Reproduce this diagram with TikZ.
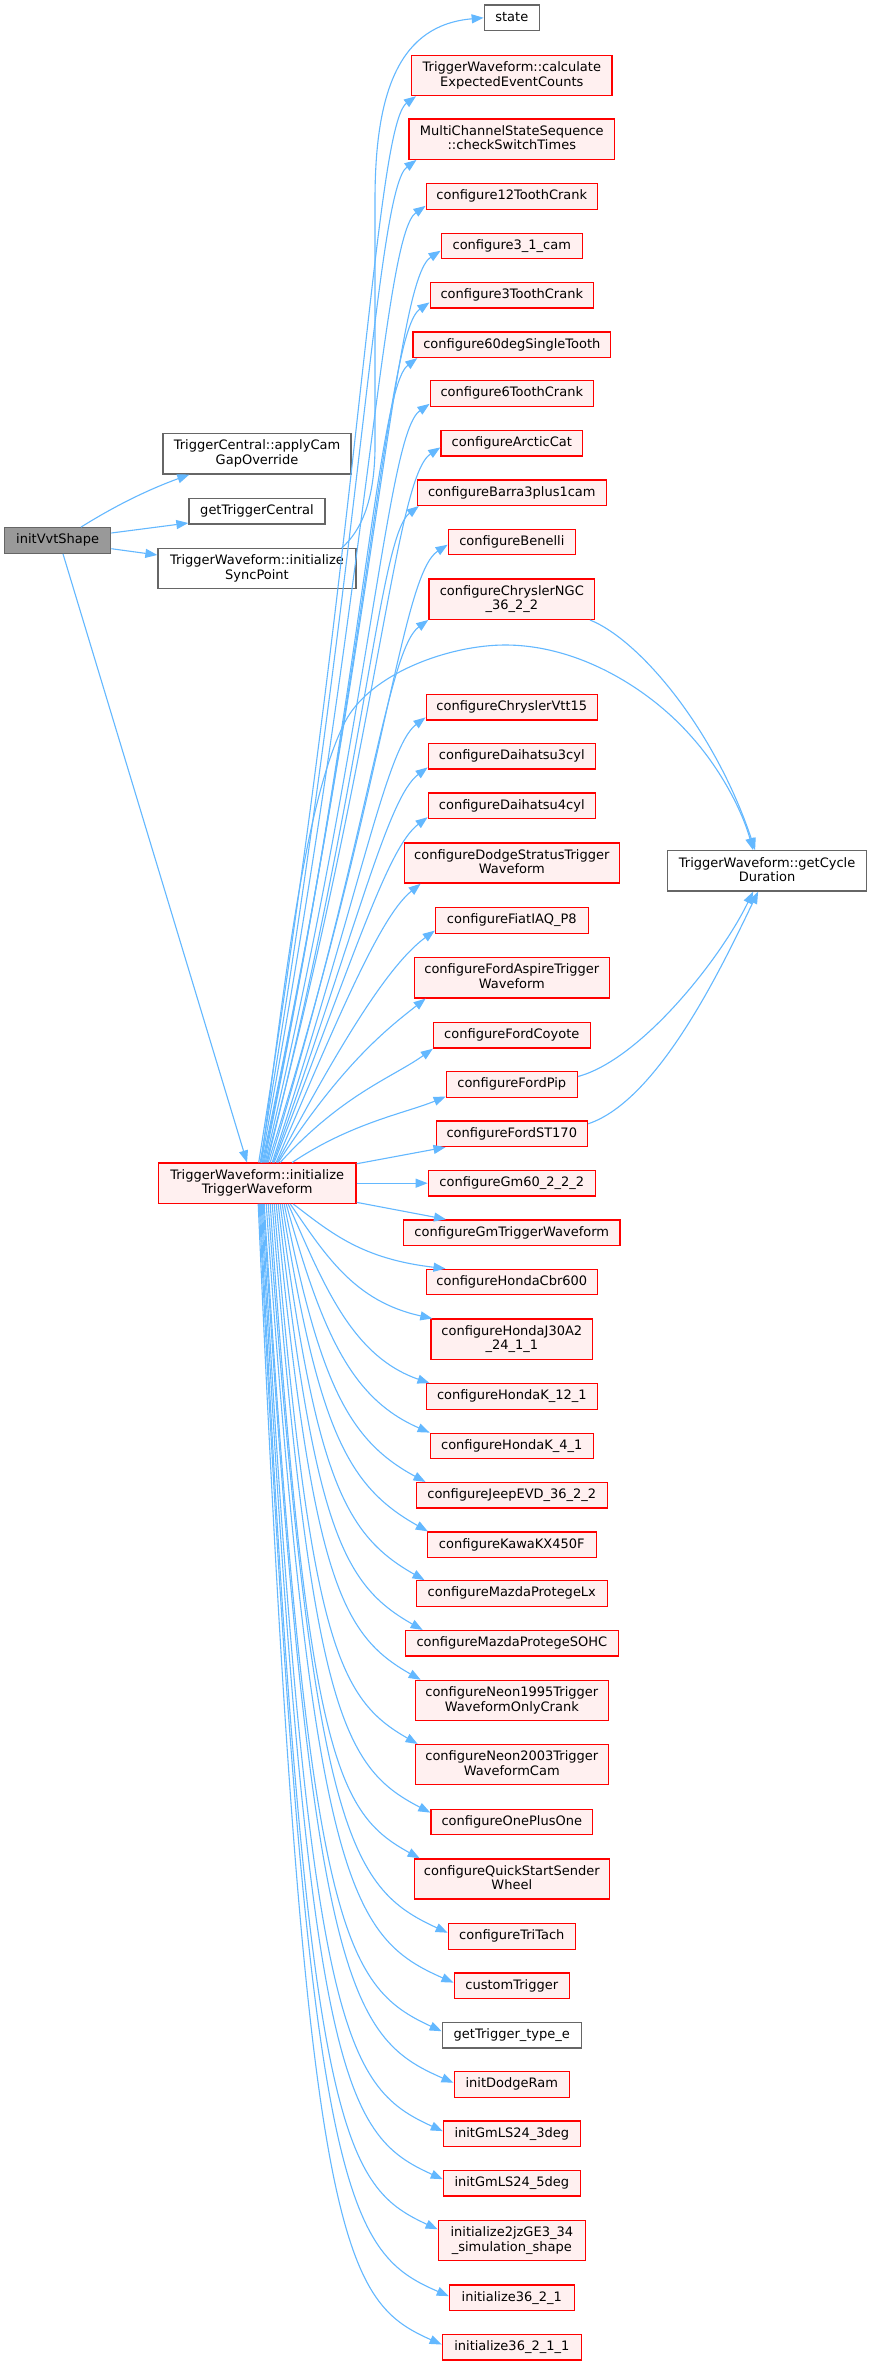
\documentclass[tikz,border=0pt]{standalone}
\usepackage{fontspec}
\setmainfont{DejaVu Sans}
\usetikzlibrary{arrows.meta,calc}
\definecolor{edgeblue}{HTML}{63B8FF}
\definecolor{redfill}{HTML}{FFF0F0}
\definecolor{grayline}{HTML}{666666}
\definecolor{rootfill}{HTML}{999999}
\newcommand\sst{\rule[-3pt]{0pt}{12.6pt}}
% upper edge: target, start xshift from tw.north, end xshift, end yshift from target.south west
\newcommand\upE[4]{%
\draw[edge] let \p1=([xshift=#2pt]tw.north), \p2=([xshift=#3pt,yshift=#4pt]#1.south west),
 \n1={\x2-\x1}, \n2={\y2-\y1}, \n3={0.35+0.3*min(\n2/600,1)}, \n4={min(30,0.25*\n2)} in
 (\p1) .. controls ({\x1+\n3*\n1},{\y2-0.4*\n2}) and ({\x2-0.26*\n1},{\y2-\n4}) .. (\p2);}
% lower edge: target, start xshift from tw.south, end xshift, end yshift from target.north west
\newcommand\loE[4]{%
\draw[edge] let \p1=([xshift=#2pt]tw.south), \p2=([xshift=#3pt,yshift=#4pt]#1.north west),
 \n1={\x2-\x1}, \n2={\y1-\y2}, \n3={min(0.55*\n2,100)}, \n4={min(0.15*\n2,45)} in
 (\p1) .. controls ({\x1+0.25*\n1},{\y2+\n3}) and ({\x2-0.55*\n1},{\y2+\n4}) .. (\p2);}
\begin{document}
\begin{tikzpicture}[x=1pt,y=1pt,
 box/.style={rectangle, draw, line width=1.3pt, inner sep=0pt, align=center,
   font=\fontsize{13}{14.5}\selectfont, minimum height=25.5pt},
 two/.style={minimum height=40.2pt},
 rednode/.style={box, draw=red, fill=redfill},
 graynode/.style={box, draw=grayline, fill=white},
 rootnode/.style={box, draw=grayline, fill=rootfill},
 edge/.style={color=edgeblue, line width=1.1pt, -{Triangle[length=12pt,width=9pt]}}]
\useasboundingbox (0,0) rectangle (872,-2365);
\fill[white] (0,0) rectangle (872,-2365);
% left column
\node[rootnode, minimum width=106pt] (root) at (57.7,-540.5) {\sst initVvtShape};
\node[graynode, two, minimum width=188pt] (applycam) at (257,-453.8) {\sst TriggerCentral::applyCam\\\sst GapOverride};
\node[graynode, minimum width=136pt] (gtc) at (257,-511.3) {\sst getTriggerCentral};
\node[graynode, two, minimum width=198pt] (syncp) at (257,-568.7) {\sst TriggerWaveform::initialize\\\sst SyncPoint};
\node[rednode, two, minimum width=197.7pt] (tw) at (257.2,-1183.2) {\sst TriggerWaveform::initialize\\\sst TriggerWaveform};
\node[graynode, two, minimum width=199.2pt] (getc) at (767.1,-870.9) {\sst TriggerWaveform::getCycle\\\sst Duration};
% right column
\node[graynode, minimum width=55pt] (state) at (511.8,-17.8) {\sst state};
\node[rednode, two, minimum width=200.3pt] (calcEEC) at (511.8,-75.5) {\sst TriggerWaveform::calculate\\\sst ExpectedEventCounts};
\node[rednode, two, minimum width=205.4pt] (multi) at (511.8,-139.2) {\sst MultiChannelStateSequence\\\sst ::checkSwitchTimes};
\node[rednode, minimum width=171.3pt] (c12) at (511.8,-196.5) {\sst configure12ToothCrank};
\node[rednode, minimum width=141pt] (c31) at (511.8,-246) {\sst configure3\_1\_cam};
\node[rednode, minimum width=163.3pt] (c3T) at (511.8,-295.3) {\sst configure3ToothCrank};
\node[rednode, minimum width=197.7pt] (c60) at (511.8,-344.7) {\sst configure60degSingleTooth};
\node[rednode, minimum width=163.3pt] (c6T) at (511.8,-393.5) {\sst configure6ToothCrank};
\node[rednode, minimum width=141.7pt] (arctic) at (511.8,-443.3) {\sst configureArcticCat};
\node[rednode, minimum width=188.7pt] (barra) at (511.8,-492.7) {\sst configureBarra3plus1cam};
\node[rednode, minimum width=127pt] (benelli) at (511.8,-542) {\sst configureBenelli};
\node[rednode, two, minimum width=165.7pt] (ngc) at (511.8,-599.2) {\sst configureChryslerNGC\\\sst \_36\_2\_2};
\node[rednode, minimum width=171.3pt] (vtt) at (511.8,-707.3) {\sst configureChryslerVtt15};
\node[rednode, minimum width=167pt] (dai3) at (511.8,-756.3) {\sst configureDaihatsu3cyl};
\node[rednode, minimum width=167pt] (dai4) at (511.8,-805.8) {\sst configureDaihatsu4cyl};
\node[rednode, two, minimum width=215pt] (dodge) at (511.8,-863) {\sst configureDodgeStratusTrigger\\\sst Waveform};
\node[rednode, minimum width=152.7pt] (fiat) at (511.8,-920.5) {\sst configureFiatIAQ\_P8};
\node[rednode, two, minimum width=195pt] (aspire) at (511.8,-977.8) {\sst configureFordAspireTrigger\\\sst Waveform};
\node[rednode, minimum width=156.7pt] (coyote) at (511.8,-1035.3) {\sst configureFordCoyote};
\node[rednode, minimum width=131pt] (pip) at (511.8,-1084.5) {\sst configureFordPip};
\node[rednode, minimum width=151.3pt] (st170) at (511.8,-1133.8) {\sst configureFordST170};
\node[rednode, minimum width=167pt] (gm60) at (511.8,-1183.2) {\sst configureGm60\_2\_2\_2};
\node[rednode, minimum width=216.3pt] (gmtw) at (511.8,-1232.7) {\sst configureGmTriggerWaveform};
\node[rednode, minimum width=171.3pt] (cbr) at (511.8,-1282) {\sst configureHondaCbr600};
\node[rednode, two, minimum width=161.7pt] (j30) at (511.8,-1339.2) {\sst configureHondaJ30A2\\\sst \_24\_1\_1};
\node[rednode, minimum width=171.3pt] (k121) at (511.8,-1396.5) {\sst configureHondaK\_12\_1};
\node[rednode, minimum width=163pt] (k41) at (511.8,-1446) {\sst configureHondaK\_4\_1};
\node[rednode, minimum width=191.3pt] (jeep) at (511.8,-1495.3) {\sst configureJeepEVD\_36\_2\_2};
\node[rednode, minimum width=168.7pt] (kawa) at (511.8,-1544.7) {\sst configureKawaKX450F};
\node[rednode, minimum width=191.3pt] (mlx) at (511.8,-1593.5) {\sst configureMazdaProtegeLx};
\node[rednode, minimum width=213pt] (msohc) at (511.8,-1643.3) {\sst configureMazdaProtegeSOHC};
\node[rednode, two, minimum width=193pt] (neon95) at (511.8,-1700.5) {\sst configureNeon1995Trigger\\\sst WaveformOnlyCrank};
\node[rednode, two, minimum width=193pt] (neon03) at (511.8,-1764.7) {\sst configureNeon2003Trigger\\\sst WaveformCam};
\node[rednode, minimum width=161.7pt] (opo) at (511.8,-1822) {\sst configureOnePlusOne};
\node[rednode, two, minimum width=195pt] (quick) at (511.8,-1879) {\sst configureQuickStartSender\\\sst Wheel};
\node[rednode, minimum width=127pt] (tritach) at (511.8,-1936.5) {\sst configureTriTach};
\node[rednode, minimum width=115.3pt] (custom) at (511.8,-1985.7) {\sst customTrigger};
\node[graynode, minimum width=139pt] (gtte) at (511.8,-2035.2) {\sst getTrigger\_type\_e};
\node[rednode, minimum width=115.3pt] (dodgeram) at (511.8,-2084.5) {\sst initDodgeRam};
\node[rednode, minimum width=136.7pt] (ls3) at (511.8,-2133.8) {\sst initGmLS24\_3deg};
\node[rednode, minimum width=136.7pt] (ls5) at (511.8,-2183.3) {\sst initGmLS24\_5deg};
\node[rednode, two, minimum width=147pt] (jz) at (511.8,-2240.7) {\sst initialize2jzGE3\_34\\\sst \_simulation\_shape};
\node[rednode, minimum width=124.7pt] (i3621) at (511.8,-2297.8) {\sst initialize36\_2\_1};
\node[rednode, minimum width=139pt] (i36211) at (511.8,-2347.2) {\sst initialize36\_2\_1\_1};
% edges from root
\draw[edge] ([xshift=23.3pt]root.north) .. controls (118,-504) and (150,-489) .. ([xshift=27pt]applycam.south west);
\draw[edge] ([yshift=7.5pt]root.east) -- ([yshift=-11.7pt]gtc.west);
\draw[edge] ([yshift=-8.2pt]root.east) -- ([yshift=13.7pt]syncp.west);
\draw[edge] ([xshift=5.3pt]root.south) -- ([xshift=-10.2pt]tw.north);
% syncpoint -> state
\draw[edge] ([xshift=84.7pt]syncp.north) .. controls (362,-530) and (374,-500) .. (375,-450)
  -- (375,-200) .. controls (375,-90) and (400,-25) .. (state.west);
% upper fan
\upE{calcEEC}{1.5}{5}{0}
\upE{multi}{3}{8}{0}
\upE{c12}{4}{0}{4}
\upE{c31}{5}{0}{8.7}
\upE{c3T}{6}{0}{6.3}
\upE{c60}{7}{5}{0}
\upE{c6T}{8}{0}{3}
\upE{arctic}{9}{0}{9.3}
\upE{barra}{10}{2}{0}
\upE{benelli}{11}{0}{10.7}
\upE{ngc}{13}{0}{0}
\upE{vtt}{15}{0}{3.3}
\upE{dai3}{16}{0}{2.3}
\upE{dai4}{17}{0}{2}
\upE{dodge}{19}{17}{0}
\upE{fiat}{20}{0}{3.3}
\upE{aspire}{21}{12}{0}
\upE{coyote}{23}{0}{0}
\upE{pip}{35}{0}{1.3}
\draw[edge] ([yshift=-1.3pt]tw.north east) -- ([xshift=10pt]st170.south west);
\draw[edge] (tw.east) -- (gm60.west);
\draw[edge] ([yshift=1.6pt]tw.south east) -- ([xshift=43pt]gmtw.north west);
% lower fan
\loE{cbr}{36}{20}{0}
\loE{j30}{33}{2}{0}
\loE{k121}{31}{4}{0}
\loE{k41}{29}{0}{0}
\loE{jeep}{27}{10}{0}
\loE{kawa}{25}{1}{0}
\loE{mlx}{23}{9}{0}
\loE{msohc}{21}{18}{0}
\loE{neon95}{19}{6}{0}
\loE{neon03}{17}{3}{0}
\loE{opo}{15}{0}{-4}
\loE{quick}{13}{6}{0}
\loE{tritach}{11}{0}{-9.6}
\loE{custom}{9}{0}{-10.3}
\loE{gtte}{7}{0}{-9.4}
\loE{dodgeram}{6}{0}{-11.6}
\loE{ls3}{5}{0}{-10.7}
\loE{ls5}{4}{0}{-9.3}
\loE{jz}{3}{0}{-9.3}
\loE{i3621}{2}{0}{-11.7}
\loE{i36211}{1}{0}{-10.7}
% getCycleDuration edges
\draw[edge] ([xshift=4pt]tw.north) .. controls (285,-980) and (305,-800) .. (345,-722)
  .. controls (370,-673) and (450,-645) .. (505,-645)
  .. controls (580,-645) and (650,-690) .. (690,-735)
  .. controls (720,-768) and (742,-810) .. ([xshift=-14pt]getc.north);
\draw[edge] ([xshift=-5.4pt]ngc.south east) .. controls (640,-640) and (715,-730) .. ([xshift=-12pt]getc.north);
\draw[edge] ([yshift=8pt]pip.east) .. controls (640,-1060) and (720,-960) .. ([xshift=-14pt]getc.south);
\draw[edge] ([yshift=10pt]st170.east) .. controls (660,-1100) and (725,-960) .. ([xshift=-9pt]getc.south);
\end{tikzpicture}
\end{document}
